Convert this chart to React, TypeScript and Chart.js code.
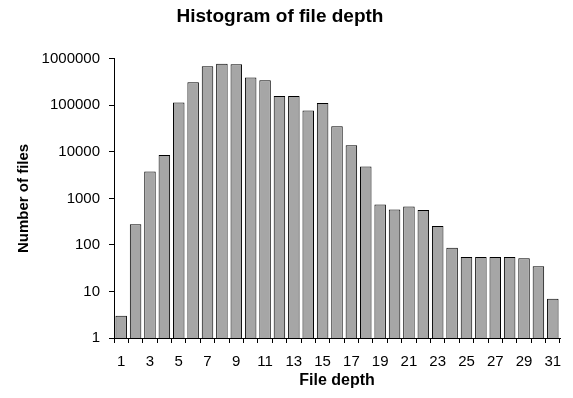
import React, { useEffect, useRef } from "react";
import { Chart, registerables } from "chart.js";

Chart.register(...registerables);

const depths = Array.from({ length: 31 }, (_, i) => String(i + 1));
const fileCounts = [
  3, 279, 3770, 8600, 115000, 315000, 690000, 780000, 760000, 397000, 347000,
  158000, 158000, 77000, 112000, 35600, 13900, 4860, 743, 580, 673, 561, 254,
  87, 55, 55, 55, 55, 52, 35, 7,
];
const yTickValues = [1, 10, 100, 1000, 10000, 100000, 1000000];

const FONT = "'Liberation Sans', Arial, sans-serif";

export default function App() {
  const ref = useRef<HTMLCanvasElement | null>(null);
  useEffect(() => {
    if (!ref.current) return;
    const chart = new Chart(ref.current, {
      type: "bar",
      data: {
        labels: depths,
        datasets: [
          {
            data: fileCounts,
            backgroundColor: "#a6a6a6",
            borderColor: "#000000",
            borderWidth: 1,
            barPercentage: 0.8,
            categoryPercentage: 1,
          },
        ],
      },
      options: {
        animation: false,
        responsive: false,
        maintainAspectRatio: false,
        layout: { padding: { left: 0, right: 13, top: 0, bottom: 0 } },
        plugins: {
          legend: { display: false },
          tooltip: { enabled: false },
          title: {
            display: true,
            text: "Histogram of file depth",
            color: "#000",
            font: { family: FONT, size: 19, weight: "bold" },
            padding: { top: 5, bottom: 31 },
          },
        },
        scales: {
          x: {
            type: "category",
            offset: true,
            border: { display: true, color: "#000", width: 1 },
            grid: {
              display: true,
              drawOnChartArea: false,
              drawTicks: true,
              tickLength: 5,
              tickColor: "#000",
              offset: true,
            },
            ticks: {
              autoSkip: false,
              maxRotation: 0,
              color: "#000",
              font: { family: FONT, size: 15 },
              padding: 10,
              callback: (_v: any, i: number) => (i % 2 === 0 ? depths[i] : ""),
            },
            title: {
              display: true,
              text: "File depth",
              color: "#000",
              font: { family: FONT, size: 16, weight: "bold" },
              padding: { top: 4, bottom: 8 },
            },
            afterFit: (s: any) => {
              s.height = 60;
            },
          },
          y: {
            type: "logarithmic",
            min: 1,
            max: 1000000,
            border: { display: true, color: "#000", width: 1 },
            grid: {
              display: true,
              drawOnChartArea: false,
              drawTicks: true,
              tickLength: 5,
              tickColor: "#000",
            },
            afterBuildTicks: (s: any) => {
              s.ticks = yTickValues.map((v) => ({ value: v }));
            },
            ticks: {
              color: "#000",
              font: { family: FONT, size: 15 },
              padding: 9,
              callback: (v: any) => String(v),
            },
            title: {
              display: true,
              text: "Number of files",
              color: "#000",
              font: { family: FONT, size: 15, weight: "bold" },
              padding: { top: 15, bottom: 4 },
            },
            afterFit: (s: any) => {
              s.width = 114;
            },
          },
        },
      },
    });
    return () => chart.destroy();
  }, []);
  return (
    <div style={{ position: "fixed", left: 0, top: 0, width: 573, height: 398, background: "#fff" }}>
      <canvas ref={ref} width={573} height={398} style={{ width: 573, height: 398 }} />
    </div>
  );
}
